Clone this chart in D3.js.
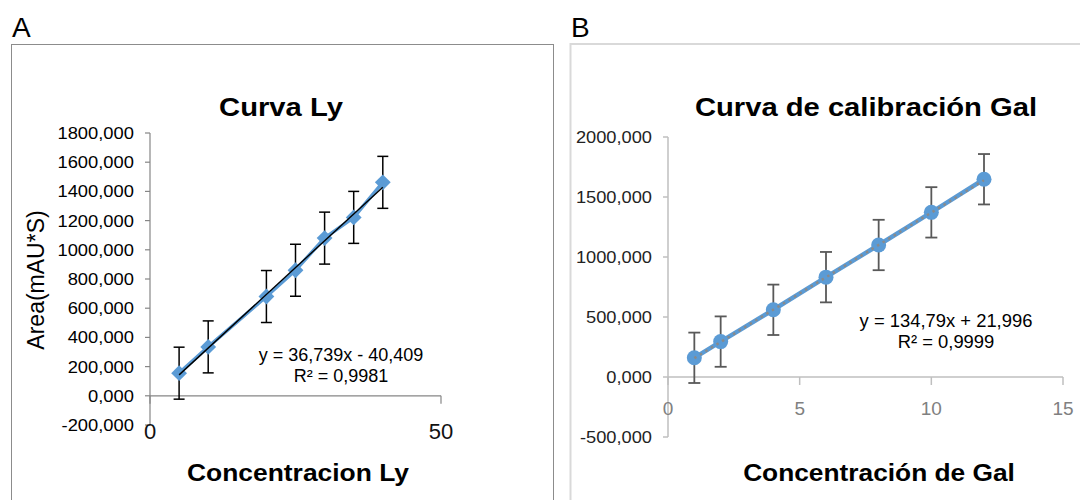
<!DOCTYPE html>
<html>
<head>
<meta charset="utf-8">
<script src="https://cdn.jsdelivr.net/npm/d3@7"></script>
<style>
  html, body { margin: 0; padding: 0; background: #fff; }
  svg { display: block; }
  text { font-family: "Liberation Sans", Arial, sans-serif; }
</style>
</head>
<body>
<svg id="chart" width="1080" height="500"></svg>
<script>
// Panel A: calibration curve for Ly
const lyConc = [5, 10, 20, 25, 30, 35, 40];
const lyArea = [155, 335, 680, 860, 1080, 1222, 1462];
const lyErr = [178, 178, 178, 178, 178, 178, 178];
const lyTrend = { slope: 36.739, intercept: -40.409 };
const lyYTicks = [-200, 0, 200, 400, 600, 800, 1000, 1200, 1400, 1600, 1800];
const lyXTicks = [0, 50];

// Panel B: calibration curve for Gal
const galConc = [1, 2, 4, 6, 8, 10, 12];
const galArea = [160, 295, 560, 832, 1100, 1372, 1648];
const galErr = [210, 210, 210, 210, 210, 210, 210];
const galTrend = { slope: 134.79, intercept: 21.996 };
const galYTicks = [-500, 0, 500, 1000, 1500, 2000];
const galXTicks = [0, 5, 10, 15];

const esLocale = d3.formatLocale({ decimal: ",", thousands: "", grouping: [3], currency: ["", ""], minus: "-" });
const fmt3 = esLocale.format(".3f");

const svg = d3.select("#chart");
const BLUE = "#5b9bd5";

// text with a slight horizontal stretch
function label(g, x, y, str, o) {
  o = o || {};
  return g.append("text")
    .attr("transform", `translate(${x},${y}) scale(${o.sx || 1},1)` + (o.rot ? ` rotate(${o.rot})` : ""))
    .attr("text-anchor", o.anchor || "middle")
    .attr("font-size", o.size || 16)
    .attr("font-weight", o.bold ? "bold" : "normal")
    .attr("fill", o.fill || "#000")
    .text(str);
}

/* ---------------- Panel A ---------------- */
const gA = svg.append("g");
gA.append("rect").attr("x", 11.5).attr("y", 44.5).attr("width", 542).attr("height", 470)
  .attr("fill", "none").attr("stroke", "#8c8c8c").attr("stroke-width", 1);
label(gA, 12, 37, "A", { size: 28, anchor: "start" });

const xA = d3.scaleLinear().domain([0, 50]).range([150, 441]);
const yA = d3.scaleLinear().domain([-200, 1800]).range([425, 133]);

// axes
const axA = gA.append("g").attr("stroke", "#868686").attr("stroke-width", 1.2);
axA.append("line").attr("x1", xA(0)).attr("x2", xA(0)).attr("y1", yA.range()[1]).attr("y2", yA.range()[0]);
axA.append("line").attr("x1", xA.range()[0]).attr("x2", xA.range()[1]).attr("y1", yA(0)).attr("y2", yA(0));
lyYTicks.forEach(t => axA.append("line").attr("x1", xA(0) - 5).attr("x2", xA(0)).attr("y1", yA(t)).attr("y2", yA(t)));
lyXTicks.forEach(t => axA.append("line").attr("x1", xA(t)).attr("x2", xA(t)).attr("y1", yA(0)).attr("y2", yA(0) + 8));

lyYTicks.forEach(t => label(gA, 134, yA(t) + 6, fmt3(t), { size: 17, anchor: "end", sx: 1.08 }));
lyXTicks.forEach(t => label(gA, xA(t), 439, String(t), { size: 22, fill: "#111" }));

label(gA, 281, 116, "Curva Ly", { size: 25.6, bold: true, sx: 1.14 });
label(gA, 298, 481, "Concentracion Ly", { size: 24.7, bold: true, sx: 1.07 });
label(gA, 44, 280, "Area(mAU*S)", { size: 23, rot: -90, sx: 1 });

// error bars
const ebA = gA.append("g").attr("stroke", "#000").attr("stroke-width", 1.5);
lyConc.forEach((c, i) => {
  const x = xA(c), y0 = yA(lyArea[i] - lyErr[i]), y1 = yA(lyArea[i] + lyErr[i]);
  ebA.append("line").attr("x1", x).attr("x2", x).attr("y1", y0).attr("y2", y1);
  ebA.append("line").attr("x1", x - 5.5).attr("x2", x + 5.5).attr("y1", y0).attr("y2", y0);
  ebA.append("line").attr("x1", x - 5.5).attr("x2", x + 5.5).attr("y1", y1).attr("y2", y1);
});

// series line + markers
const lineA = d3.line().x((d, i) => xA(lyConc[i])).y(d => yA(d));
gA.append("path").attr("d", lineA(lyArea)).attr("fill", "none").attr("stroke", BLUE).attr("stroke-width", 3.5);
gA.selectAll(".mkA").data(lyArea).join("path")
  .attr("d", d3.symbol(d3.symbolSquare, 125)())
  .attr("transform", (d, i) => `translate(${xA(lyConc[i])},${yA(d)}) rotate(45)`)
  .attr("fill", BLUE);

// linear trend line
const trA = [d3.min(lyConc), d3.max(lyConc)];
gA.append("line")
  .attr("x1", xA(trA[0])).attr("y1", yA(lyTrend.slope * trA[0] + lyTrend.intercept))
  .attr("x2", xA(trA[1])).attr("y2", yA(lyTrend.slope * trA[1] + lyTrend.intercept))
  .attr("stroke", "#000").attr("stroke-width", 1.4);

label(gA, 341, 361, "y = 36,739x - 40,409", { size: 18 });
label(gA, 341, 382, "R² = 0,9981", { size: 18 });

/* ---------------- Panel B ---------------- */
const gB = svg.append("g");
gB.append("rect").attr("x", 570.5).attr("y", 44).attr("width", 540).attr("height", 470)
  .attr("fill", "none").attr("stroke", "#d9d9d9").attr("stroke-width", 2);
label(gB, 571, 37, "B", { size: 28, anchor: "start" });

const xB = d3.scaleLinear().domain([0, 15]).range([668, 1063]);
const yB = d3.scaleLinear().domain([-500, 2000]).range([437, 137]);

const axB = gB.append("g").attr("stroke", "#bfbfbf").attr("stroke-width", 1.5);
axB.append("line").attr("x1", xB(0)).attr("x2", xB(0)).attr("y1", yB.range()[1]).attr("y2", yB.range()[0]);
axB.append("line").attr("x1", xB.range()[0]).attr("x2", xB.range()[1]).attr("y1", yB(0)).attr("y2", yB(0));
galYTicks.forEach(t => axB.append("line").attr("x1", xB(0) - 5).attr("x2", xB(0)).attr("y1", yB(t)).attr("y2", yB(t)));
galXTicks.forEach(t => axB.append("line").attr("x1", xB(t)).attr("x2", xB(t)).attr("y1", yB(0)).attr("y2", yB(0) + 8));

galYTicks.forEach(t => label(gB, 652, yB(t) + 6, fmt3(t), { size: 16.3, anchor: "end", sx: 1.12, fill: "#222" }));
galXTicks.forEach(t => label(gB, xB(t), 415, String(t), { size: 19, fill: "#808080" }));

label(gB, 866, 116, "Curva de calibración Gal", { size: 25.6, bold: true, sx: 1.14 });
label(gB, 879, 481, "Concentración de Gal", { size: 24.7, bold: true, sx: 1.065 });

const ebB = gB.append("g").attr("stroke", "#595959").attr("stroke-width", 1.8);
galConc.forEach((c, i) => {
  const x = xB(c), y0 = yB(galArea[i] - galErr[i]), y1 = yB(galArea[i] + galErr[i]);
  ebB.append("line").attr("x1", x).attr("x2", x).attr("y1", y0).attr("y2", y1);
  ebB.append("line").attr("x1", x - 6).attr("x2", x + 6).attr("y1", y0).attr("y2", y0);
  ebB.append("line").attr("x1", x - 6).attr("x2", x + 6).attr("y1", y1).attr("y2", y1);
});

const lineB = d3.line().x((d, i) => xB(galConc[i])).y(d => yB(d));
gB.append("path").attr("d", lineB(galArea)).attr("fill", "none").attr("stroke", BLUE).attr("stroke-width", 4.5);
gB.selectAll(".mkB").data(galArea).join("circle")
  .attr("cx", (d, i) => xB(galConc[i])).attr("cy", d => yB(d)).attr("r", 7.5)
  .attr("fill", BLUE);

const trB = [d3.min(galConc), d3.max(galConc)];
gB.append("line")
  .attr("x1", xB(trB[0])).attr("y1", yB(galTrend.slope * trB[0] + galTrend.intercept))
  .attr("x2", xB(trB[1])).attr("y2", yB(galTrend.slope * trB[1] + galTrend.intercept))
  .attr("stroke", "#8a8a8a").attr("stroke-width", 2.5).attr("stroke-dasharray", "2.5,4");

label(gB, 946, 327, "y = 134,79x + 21,996", { size: 18.4 });
label(gB, 946, 348, "R² = 0,9999", { size: 18.4 });
</script>
</body>
</html>
